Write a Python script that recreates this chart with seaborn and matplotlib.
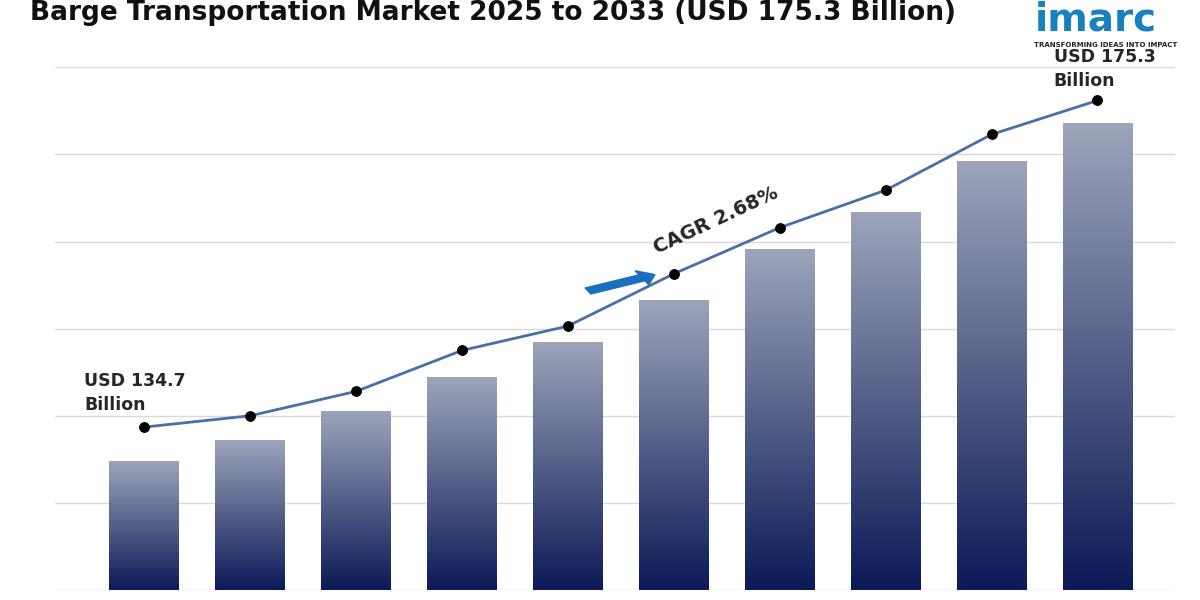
import matplotlib
matplotlib.use("Agg")
import matplotlib.pyplot as plt
import seaborn as sns
import numpy as np
import pandas as pd
from matplotlib.colors import LinearSegmentedColormap

years = ["2024","2025","2026","2027","2028","2029","2030","2031","2032","2033"]
bar_values = [1.48, 1.72, 2.05, 2.44, 2.85, 3.33, 3.92, 4.34, 4.93, 5.36]
line_values = [1.87, 2.00, 2.28, 2.75, 3.03, 3.63, 4.16, 4.59, 5.23, 5.62]
title = "Barge Transportation Market 2025 to 2033 (USD 175.3 Billion)"

sns.set_style("white")
fig = plt.figure(figsize=(12, 6), dpi=100)
ax = fig.add_axes([0.046, 0.0167, 0.933, 0.871])
df = pd.DataFrame({"year": years, "v": bar_values})
sns.barplot(data=df, x="year", y="v", ax=ax, width=0.66, color="#333", zorder=2)
grad = np.linspace(0, 1, 256).reshape(-1, 1)
cmap = LinearSegmentedColormap.from_list("g", ["#0b1a57", "#9ca5ba"])
for p in ax.patches:
    x0, w, h = p.get_x(), p.get_width(), p.get_height()
    im = ax.imshow(grad, extent=[x0, x0 + w, 0, h], origin="lower", cmap=cmap, aspect="auto", zorder=2)
    im.set_clip_path(p)
    p.set_alpha(0)
ax.set_xlim(-0.84, 9.73)
ax.set_ylim(0, 6)
sns.lineplot(x=np.arange(len(years)), y=line_values, ax=ax, color="#4a6fa8", lw=2, zorder=3,
             marker="o", markersize=7, markerfacecolor="black", markeredgecolor="black")
ax.set_yticks(range(7))
ax.grid(axis="y", color="#d9d9d9", lw=1)
ax.set_axisbelow(True)
for s in ax.spines.values():
    s.set_visible(False)
ax.set_xticks([]); ax.set_yticklabels([]); ax.set_xlabel(""); ax.set_ylabel("")
ax.tick_params(left=False)

fig.text(0.025, 0.978, title, fontsize=19, fontweight="bold", ha="left", va="center", color="#111")
fig.text(0.862, 0.968, "imarc", fontsize=28, fontweight="bold", color="#1a7fc1", ha="left", va="center")
fig.text(0.862, 0.925, "TRANSFORMING IDEAS INTO IMPACT", fontsize=5, fontweight="bold", color="#222", ha="left", va="center")
fig.text(0.070, 0.345, "USD 134.7\nBillion", fontsize=12.5, fontweight="bold", ha="left", va="center", linespacing=1.4)
fig.text(0.878, 0.885, "USD 175.3\nBillion", fontsize=12.5, fontweight="bold", ha="left", va="center", linespacing=1.4)
fig.text(0.597, 0.632, "CAGR 2.68%", fontsize=14, fontweight="bold", rotation=25, ha="center", va="center")
fig.patches.append(matplotlib.patches.FancyArrow(0.490, 0.515, 0.045, 0.022, width=0.011, head_width=0.026,
                                                  head_length=0.012, color="#1a6fc0", transform=fig.transFigure, figure=fig))
fig.savefig("out.png", dpi=100)
